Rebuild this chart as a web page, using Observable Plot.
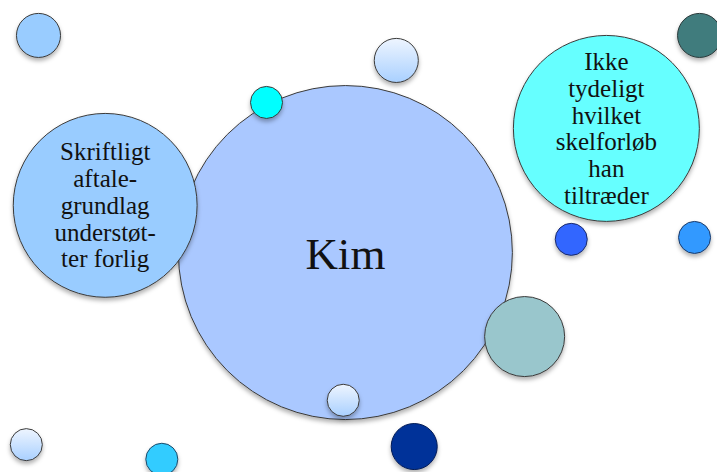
<!DOCTYPE html>
<html>
<head>
<meta charset="utf-8">
<script src="https://cdn.jsdelivr.net/npm/d3@7"></script>
<script src="https://cdn.jsdelivr.net/npm/@observablehq/plot@0.6"></script>
<style>
  html, body { margin: 0; padding: 0; background: #fff; }
  #chart { width: 717px; height: 472px; }
</style>
</head>
<body>
<div id="chart"></div>
<script>
// Bubble data (x, y in abstract 0–100 units; size drives area via sqrt r scale)
const names  = ["Kim", "a", "Skriftligt", "Ikke", "c", "d", "e", "f", "g", "h", "i", "j", "k", "l"];
const labels = ["Kim", "", "Skriftligt\naftale-\ngrundlag\nunderstøt-\nter forlig", "Ikke\ntydeligt\nhvilket\nskelforløb\nhan\ntiltræder", "", "", "", "", "", "", "", "", "", ""];
const xs     = [48.1, 5.3, 14.6, 84.5, 37.1, 55.2, 97.5, 79.6, 96.8, 73.1, 47.8, 57.7, 3.6, 22.5];
const ys     = [46.6, 92.6, 56.6, 72.9, 78.4, 87.3, 92.6, 49.4, 49.8, 28.8, 15.3, 5.5, 5.9, 2.8];
const sizes  = [100, 1.74, 30.3, 31.0, 0.92, 1.74, 1.74, 0.92, 0.92, 5.74, 0.92, 1.90, 0.92, 0.92];
const fills  = ["#aac8ff", "#99ccff", "#99ccff", "#66ffff", "#00ffff", "url(#lightGrad)", "#417b7d", "#3366ff", "#3399ff", "#99c6cc", "url(#lightGrad)", "#003399", "url(#lightGrad)", "#33ccff"];
const strokes = ["#3a3a3a", "#3a3a3a", "#3a3a3a", "#3a3a3a", "#3a3a3a", "#3a3a3a", "#2a3a3a", "#1a2a6a", "#1a3a6a", "#3a3a3a", "#3a3a3a", "#001a55", "#3a3a3a", "#1a4a6a"];

const data = names.map((n, i) => ({
  name: n, label: labels[i], x: xs[i], y: ys[i], size: sizes[i], fill: fills[i], stroke: strokes[i]
}));

const font = "'Liberation Serif', 'Times New Roman', serif";

const chart = Plot.plot({
  width: 717,
  height: 472,
  margin: 0,
  x: {domain: [0, 100], axis: null},
  y: {domain: [0, 100], axis: null},
  r: {type: "sqrt", domain: [0, 100], range: [0, 167]},
  color: {type: "identity"},
  style: {background: "#fff", overflow: "hidden"},
  marks: [
    Plot.dot(data, {x: "x", y: "y", r: "size", fill: "fill", stroke: "stroke", strokeWidth: 1, fillOpacity: 1}),
    Plot.text(data.filter(d => d.name === "Kim"), {x: "x", y: "y", text: "label", fontSize: 45, fontFamily: font, fill: "#111", dy: 2}),
    Plot.text(data.filter(d => d.name !== "Kim" && d.label), {x: "x", y: "y", text: "label", fontSize: 25, lineHeight: 1.07, fontFamily: font, fill: "#111"})
  ]
});

// gradient and shadow definitions
const ns = "http://www.w3.org/2000/svg";
const defs = document.createElementNS(ns, "defs");
defs.innerHTML = `
  <linearGradient id="lightGrad" x1="0" y1="0" x2="0" y2="1">
    <stop offset="0" stop-color="#eef5ff"/>
    <stop offset="1" stop-color="#a9d0ff"/>
  </linearGradient>
  <filter id="shadow" x="-30%" y="-30%" width="160%" height="170%">
    <feDropShadow dx="0" dy="3" stdDeviation="2" flood-color="#000" flood-opacity="0.3"/>
  </filter>`;
chart.insertBefore(defs, chart.firstChild);
chart.querySelectorAll("circle").forEach(c => c.setAttribute("filter", "url(#shadow)"));

document.getElementById("chart").appendChild(chart);
</script>
</body>
</html>
